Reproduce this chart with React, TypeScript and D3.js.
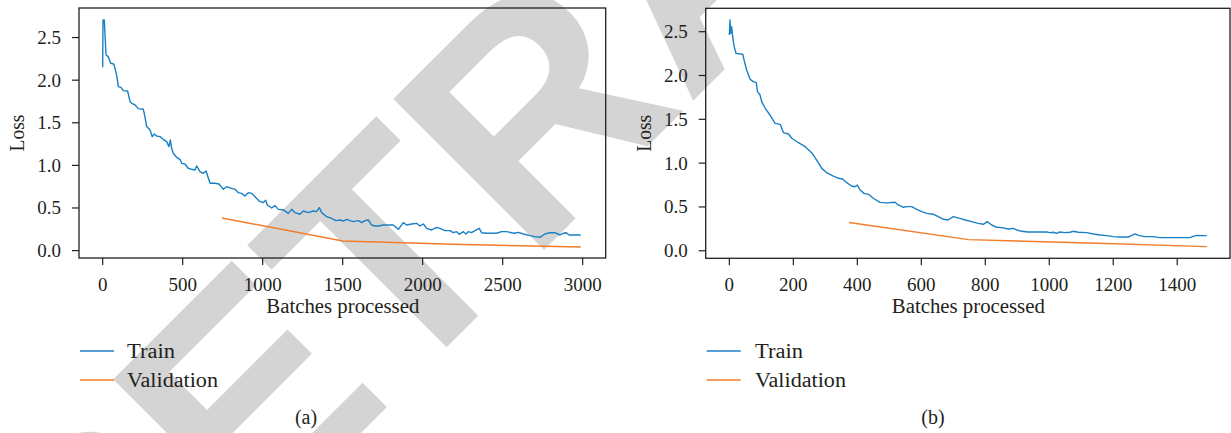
import React from "react";
import * as d3 from "d3";

// ---------- data ----------
const trainABatch = [0,2,10,21,35,50,69,77,89,98,114,129,156,171,181,202,223,254,264,275,296,310,323,337,358,379,400,414,423,431,441,462,483,494,514,535,556,577,587,608,629,646,671,702,727,754,775,806,827,848,868,889,910,931,952,983,1004,1019,1029,1056,1077,1098,1129,1160,1181,1202,1233,1254,1285,1316,1337,1354,1369,1400,1431,1458,1483,1504,1525,1546,1566,1598,1619,1639,1660,1681,1702,1723,1754,1785,1816,1848,1879,1900,1931,1962,1983,2004,2025,2056,2087,2108,2139,2171,2191,2212,2229,2254,2271,2285,2306,2327,2354,2368,2400,2431,2462,2493,2525,2556,2577,2598,2629,2671,2702,2733,2764,2796,2827,2858,2879,2896,2916,2952,2988];
const trainALoss = [2.151,2.707,2.707,2.296,2.276,2.198,2.19,2.139,2.041,1.924,1.916,1.877,1.873,1.748,1.729,1.709,1.666,1.658,1.572,1.455,1.415,1.337,1.369,1.345,1.337,1.306,1.279,1.22,1.298,1.2,1.142,1.095,1.071,1.024,1.016,0.966,0.954,0.946,0.993,0.926,0.907,0.934,0.79,0.79,0.782,0.719,0.75,0.731,0.719,0.68,0.672,0.641,0.68,0.672,0.633,0.574,0.565,0.59,0.535,0.5,0.528,0.484,0.477,0.437,0.484,0.445,0.426,0.465,0.445,0.465,0.457,0.504,0.445,0.398,0.379,0.351,0.359,0.347,0.367,0.351,0.34,0.351,0.328,0.351,0.359,0.3,0.289,0.289,0.3,0.3,0.3,0.25,0.328,0.3,0.312,0.32,0.289,0.312,0.261,0.242,0.271,0.261,0.234,0.234,0.21,0.222,0.191,0.222,0.195,0.222,0.21,0.234,0.261,0.21,0.203,0.203,0.203,0.222,0.222,0.21,0.203,0.214,0.195,0.175,0.164,0.156,0.195,0.21,0.21,0.183,0.203,0.21,0.183,0.183,0.183];
const valABatch = [745, 1500, 2250, 2988];
const valALoss = [0.383, 0.113, 0.072, 0.042];

const trainBBatch = [0,2,4,7,11,15,21,34,42,46,54,65,75,84,88,96,101,112,127,143,159,169,185,195,216,237,257,273,289,304,325,341,354,367,382,393,400,409,421,435,450,471,492,518,528,544,554,570,586,601,617,638,653,669,684,700,721,737,757,778,794,806,820,836,851,872,888,898,914,934,961,992,1002,1013,1023,1033,1049,1065,1075,1091,1117,1138,1159,1179,1200,1221,1247,1257,1268,1281,1299,1325,1346,1377,1409,1440,1448,1461,1492];
const trainBLoss = [2.462,2.633,2.481,2.557,2.424,2.329,2.253,2.245,2.242,2.177,2.063,1.956,1.93,1.918,1.816,1.778,1.702,1.626,1.549,1.454,1.443,1.348,1.333,1.284,1.233,1.188,1.119,1.035,0.94,0.891,0.853,0.827,0.819,0.777,0.739,0.731,0.75,0.693,0.655,0.644,0.599,0.552,0.546,0.553,0.523,0.496,0.504,0.504,0.473,0.446,0.427,0.416,0.389,0.359,0.351,0.389,0.37,0.351,0.332,0.313,0.302,0.332,0.294,0.268,0.264,0.249,0.256,0.237,0.222,0.214,0.214,0.214,0.207,0.211,0.199,0.214,0.207,0.211,0.222,0.211,0.207,0.192,0.18,0.173,0.161,0.157,0.157,0.173,0.192,0.173,0.161,0.161,0.15,0.15,0.15,0.15,0.161,0.176,0.173];
const valBBatch = [374, 748, 1122, 1492];
const valBLoss = [0.322, 0.127, 0.088, 0.047];

const yTicks = [0, 0.5, 1.0, 1.5, 2.0, 2.5];
const xTicksA = [0, 500, 1000, 1500, 2000, 2500, 3000];
const xTicksB = [0, 200, 400, 600, 800, 1000, 1200, 1400];
const legendLabels = ["Train", "Validation"];
const panelLabels = ["(a)", "(b)"];
const xTitle = "Batches processed";
const yTitle = "Loss";
const watermark = "RETRACTED";

// ---------- styles ----------
const FONT = "'Liberation Serif', 'Times New Roman', serif";
const FS = 19;
const INK = "#231f20";
const BLUE = "#1a80c4";
const ORANGE = "#f47b2a";
const legendWidths = [48, 91];

type PanelProps = {
  trainX: number[]; trainY: number[]; valX: number[]; valY: number[];
  xTicks: number[]; xDomain: [number, number]; yDomain: [number, number];
  left: number; right: number; top: number; bottom: number;
  yTitleX: number; labelX: number; legendTextX: number; label: string;
};

function Panel(p: PanelProps) {
  const x = d3.scaleLinear().domain(p.xDomain).range([p.left, p.right]);
  const y = d3.scaleLinear().domain(p.yDomain).range([p.bottom, p.top]);
  const line = d3.line<[number, number]>().x(d => x(d[0])).y(d => y(d[1]));
  const train = line(p.trainX.map((v, i) => [v, p.trainY[i]]) as [number, number][]) || "";
  const val = line(p.valX.map((v, i) => [v, p.valY[i]]) as [number, number][]) || "";
  const midX = (p.left + p.right) / 2;
  const legY = [351, 380];
  return (
    <g fontFamily={FONT} fontSize={FS} fill={INK}>
      <path d={train} fill="none" stroke={BLUE} strokeWidth={1.4} strokeLinejoin="round" />
      <path d={val} fill="none" stroke={ORANGE} strokeWidth={1.4} />
      <rect x={p.left} y={p.top} width={p.right - p.left} height={p.bottom - p.top}
        fill="none" stroke={INK} strokeWidth={1.3} />
      {yTicks.map(t => (
        <g key={"y" + t}>
          <line x1={p.left - 7} x2={p.left} y1={y(t)} y2={y(t)} stroke={INK} strokeWidth={1.2} />
          <text x={p.left - 18} y={y(t)} dy="0.34em" textAnchor="end">{t.toFixed(1)}</text>
        </g>
      ))}
      {p.xTicks.map(t => (
        <g key={"x" + t}>
          <line x1={x(t)} x2={x(t)} y1={p.bottom} y2={p.bottom + 7} stroke={INK} strokeWidth={1.2} />
          <text x={x(t)} y={291} textAnchor="middle">{t}</text>
        </g>
      ))}
      <text x={midX - 76} y={313} fontSize={20} textLength={153} lengthAdjust="spacingAndGlyphs">{xTitle}</text>
      <text transform={`translate(${p.yTitleX},${(p.top + p.bottom) / 2 + 18.5}) rotate(-90)`}
        fontSize={20} textLength={37} lengthAdjust="spacingAndGlyphs">{yTitle}</text>
      {legendLabels.map((l, i) => (
        <g key={l}>
          <line x1={p.left + 1} x2={p.left + 35} y1={legY[i]} y2={legY[i]}
            stroke={i === 0 ? BLUE : ORANGE} strokeWidth={1.4} />
          <text x={p.legendTextX} y={legY[i] + 7} fontSize={20} textLength={legendWidths[i]}
            lengthAdjust="spacingAndGlyphs">{l}</text>
        </g>
      ))}
      <text x={p.labelX} y={424} textAnchor="middle" fontSize={20}>{p.label}</text>
    </g>
  );
}

export default function App() {
  return (
    <svg width={1231} height={433} style={{ position: "absolute", left: 0, top: 0, background: "#fff" }}>
      <rect width={1231} height={433} fill="#fff" />
      <text transform="translate(91,703) rotate(-45)" fontFamily="'Liberation Sans', Arial, sans-serif"
        fontWeight="bold" fontSize={310} fill="#d4d4d4">{watermark}</text>
      <Panel trainX={trainABatch} trainY={trainALoss} valX={valABatch} valY={valALoss}
        xTicks={xTicksA} xDomain={[-148, 3144]} yDomain={[-0.087, 2.847]}
        left={79} right={605.7} top={8} bottom={258} yTitleX={24} labelX={306} legendTextX={127}
        label={panelLabels[0]} />
      <Panel trainX={trainBBatch} trainY={trainBLoss} valX={valBBatch} valY={valBLoss}
        xTicks={xTicksB} xDomain={[-74, 1565]} yDomain={[-0.086, 2.767]}
        left={705.7} right={1230} top={8.3} bottom={258.3} yTitleX={651} labelX={933} legendTextX={755}
        label={panelLabels[1]} />
    </svg>
  );
}
